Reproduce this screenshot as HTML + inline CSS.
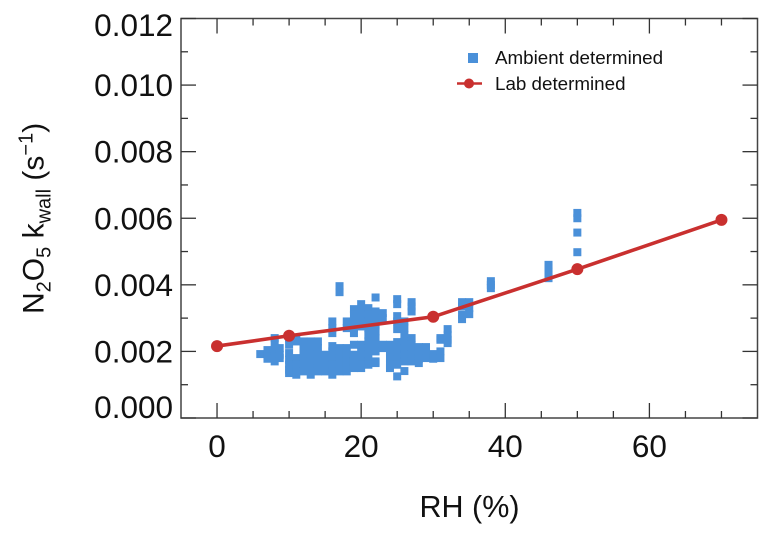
<!DOCTYPE html>
<html>
<head>
<meta charset="utf-8">
<title>N2O5 kwall vs RH</title>
<style>
html,body{margin:0;padding:0;background:#fff;}
svg{display:block;}
text{font-family:"Liberation Sans",Arial,sans-serif;fill:#111;}
</style>
</head>
<body>
<svg id="chart" width="769" height="538" viewBox="0 0 769 538" xmlns="http://www.w3.org/2000/svg">
  <g id="ambient"></g>
  <g id="lab"></g>
  <g id="axes"></g>
  <g id="ticklabels"></g>
  <text x="469.5" y="517" font-size="30.5" text-anchor="middle">RH (%)</text>
  <text transform="translate(43.5,314) rotate(-90)" font-size="30">N<tspan font-size="20" dy="7">2</tspan><tspan dy="-7">O</tspan><tspan font-size="20" dy="7">5</tspan><tspan dy="-7"> k</tspan><tspan font-size="20" dy="7">wall</tspan><tspan dy="-7"> (s</tspan><tspan font-size="20" dy="-11">−1</tspan><tspan dy="11">)</tspan></text>
  <g>
    <rect x="468" y="53" width="10" height="10" fill="#4a90d9"></rect>
    <text x="495" y="64" font-size="18.8">Ambient determined</text>
    <line x1="457" y1="83.5" x2="482" y2="83.5" stroke="#c9302f" stroke-width="2.5"></line>
    <circle cx="469" cy="83.5" r="5" fill="#c9302f"></circle>
    <text x="495" y="90" font-size="18.8">Lab determined</text>
  </g>
</svg>
<script>
const labRh = [0, 10, 30, 50, 70];
const labK = [0.00216, 0.00247, 0.00304, 0.00447, 0.00595];

const ambientRh = [
  6,
  7,7,7,
  8,8,8,8,8,
  8.7,8.7,8.7,
  10,10,10,10,10,10,10,
  11,11,11,11,11,11,
  12,12,12,12,12,12,
  13,13,13,13,13,13,
  14,14,14,14,14,14,
  15,15,15,15,
  16,16,16,16,16,16,16,16,16,
  17,17,17,17,17,17,17,
  18,18,18,18,18,18,18,
  19,19,19,19,19,19,19,19,19,
  20,20,20,20,20,20,20,20,20,20,
  21,21,21,21,21,21,21,21,21,21,
  22,22,22,22,22,22,22,22,22,22,
  23,23,23,23,
  24,24,24,24,24,
  25,25,25,25,25,25,25,25,25,25,25,
  26,26,26,26,26,26,26,26,
  27,27,27,27,27,27,27,27,
  28,28,28,28,
  29,29,29,
  30,30,
  31,31,31,31,
  32,32,32,32,
  34,34,34,34,
  35,35,35,
  38,38,38,
  46,46,46,46,46,
  50,50,50,50
];
const ambientK = [
  0.00192,
  0.00204,0.00186,0.00178,
  0.0024,0.00225,0.00205,0.00185,0.0017,
  0.0021,0.0019,0.0018,
  0.0024,0.0022,0.00195,0.00175,0.0016,0.00145,0.00135,
  0.0024,0.0023,0.0018,0.0016,0.0014,0.0013,
  0.0023,0.0021,0.0019,0.0017,0.0015,0.0014,
  0.0023,0.0021,0.0019,0.0017,0.0015,0.0013,
  0.0023,0.0021,0.0019,0.0017,0.0015,0.0014,
  0.0019,0.0017,0.0015,0.0014,
  0.0029,0.0027,0.00255,0.00216,0.0020,0.0018,0.0016,0.0014,0.0013,
  0.00396,0.00378,0.0021,0.0019,0.0017,0.0015,0.0014,
  0.0029,0.0027,0.0021,0.0019,0.0017,0.0015,0.0014,
  0.00327,0.0031,0.0029,0.0027,0.00255,0.0022,0.0019,0.0017,0.0015,
  0.00342,0.0032,0.0030,0.0028,0.00275,0.0022,0.0020,0.0018,0.0016,0.0015,
  0.0033,0.0031,0.0029,0.0027,0.0025,0.0023,0.0021,0.0019,0.0017,0.0016,
  0.00362,0.0032,0.0030,0.0028,0.0026,0.0024,0.0022,0.0020,0.0017,0.00165,
  0.00315,0.0030,0.0022,0.0021,
  0.0022,0.0020,0.0018,0.0016,0.0015,
  0.00357,0.00342,0.00306,0.0029,0.00267,0.00228,0.0021,0.0019,0.00177,0.0016,0.00125,
  0.0029,0.0027,0.0025,0.0023,0.0021,0.0019,0.0017,0.00141,
  0.00348,0.00335,0.0032,0.0024,0.0022,0.0020,0.0018,0.0017,
  0.00213,0.0020,0.00178,0.00165,
  0.00213,0.00195,0.0018,
  0.00192,0.00178,
  0.0024,0.00235,0.0020,0.0018,
  0.00267,0.0025,0.00235,0.00225,
  0.00348,0.00335,0.0031,0.00297,
  0.00348,0.0033,0.00312,
  0.00411,0.0040,0.0039,
  0.0046,0.0045,0.0044,0.0043,0.0042,
  0.00616,0.0060,0.00557,0.00498
];

const xMajorTicks = [0, 20, 40, 60];
const xMinorTicks = [5, 10, 15, 25, 30, 35, 45, 50, 55, 65, 70];
const yMajorTicks = [0, 0.002, 0.004, 0.006, 0.008, 0.010, 0.012];
const yMinorTicks = [0.001, 0.003, 0.005, 0.007, 0.009, 0.011];

const NS = 'http://www.w3.org/2000/svg';
const left = 181, right = 757.5, top_ = 18.5, bottom = 418;
function xScale(v) { return left + (v + 5) / 80 * (right - left); }
function yScale(v) { return bottom - v / 0.012 * (bottom - top_); }
function make(tag, attrs, parent) {
  const el = document.createElementNS(NS, tag);
  for (const k in attrs) el.setAttribute(k, attrs[k]);
  parent.appendChild(el);
  return el;
}

const ambientG = document.getElementById('ambient');
ambientRh.forEach(function (rh, i) {
  const r = make('rect', { x: xScale(rh) - 4, y: yScale(ambientK[i]) - 4, width: 8, height: 8, fill: '#4a90d9' }, ambientG);
  
  
});

const labG = document.getElementById('lab');
const labLine = make('polyline', {
  points: labRh.map(function (rh, i) { return xScale(rh) + ',' + yScale(labK[i]); }).join(' '),
  fill: 'none', stroke: '#c9302f', 'stroke-width': 3.6
}, labG);


labRh.forEach(function (rh, i) {
  const c = make('circle', { cx: xScale(rh), cy: yScale(labK[i]), r: 6, fill: '#c9302f' }, labG);
  
  
});

const axesG = document.getElementById('axes');
const frame = make('rect', { x: left, y: top_, width: right - left, height: bottom - top_, fill: 'none', stroke: '#444', 'stroke-width': 1.5 }, axesG);



function tickLine(x1, y1, x2, y2) {
  const t = make('line', { x1: x1, y1: y1, x2: x2, y2: y2, stroke: '#333', 'stroke-width': 1.3 }, axesG);
  
  
}
function xTicks(list, len) {
  list.forEach(function (v) {
    const x = xScale(v);
    tickLine(x, bottom, x, bottom - len);
    tickLine(x, top_, x, top_ + len);
  });
}
function yTicks(list, len) {
  list.forEach(function (v) {
    const y = yScale(v);
    tickLine(left, y, left + len, y);
    tickLine(right, y, right - len, y);
  });
}
xTicks(xMajorTicks, 15);
xTicks(xMinorTicks, 7);
yTicks(yMajorTicks, 15);
yTicks(yMinorTicks, 7);

const labelsG = document.getElementById('ticklabels');
xMajorTicks.forEach(function (v) {
  const t = make('text', { x: xScale(v), y: 457, 'font-size': 31.5, 'text-anchor': 'middle' }, labelsG);
  
  
  t.textContent = String(v);
});
yMajorTicks.forEach(function (v) {
  const baseline = Math.min(bottom, Math.max(36, yScale(v) + 11));
  const t = make('text', { x: 173, y: baseline, 'font-size': 31.5, 'text-anchor': 'end' }, labelsG);
  
  
  t.textContent = v.toFixed(3);
});
</script>
</body>
</html>
